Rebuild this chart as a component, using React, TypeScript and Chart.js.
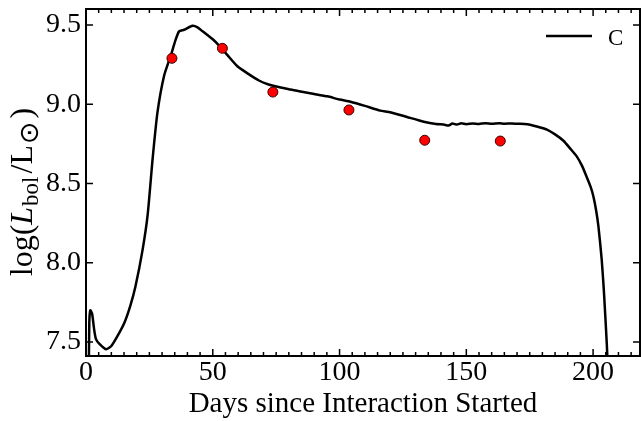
import React, { useEffect, useRef } from "react";
import { Chart, registerables } from "chart.js";

Chart.register(...registerables);

// ---- data ----
const seriesLabel = "C";
const xTitle = "Days since Interaction Started";

const lineDays = [
  1.1, 1.3, 1.7, 2.4, 3.2, 3.9, 5.2, 7.9, 10.0, 12.5, 15.1, 17.5, 19.5, 22.3,
  24.3, 26.3, 28.2, 30.8, 33.5, 35.2, 36.7, 38.7, 42.0, 44.0, 46.0, 48.0, 50.0,
  52.5, 55.8, 59.7, 63.7, 68.2, 72.0, 75.5, 80.0, 84.6, 90.0, 95.2, 100.0,
  104.3, 110.0, 116.0, 120.0, 126.6, 133.2, 138.0, 141.0, 143.0, 144.5, 146.3,
  148.0, 150.0, 152.5, 155.0, 157.5, 160.0, 163.0, 165.0, 168.0, 170.0, 174.0,
  177.8, 181.8, 185.0, 188.3, 191.0, 193.6, 195.7, 197.5, 199.0, 200.1, 201.2,
  202.1, 203.4, 204.3, 205.4, 205.9,
];
const lineLogL = [
  7.3, 7.62, 7.7, 7.68, 7.58, 7.52, 7.49, 7.455, 7.475, 7.54, 7.62, 7.73, 7.85,
  8.08, 8.3, 8.66, 8.95, 9.18, 9.31, 9.4, 9.46, 9.47, 9.495, 9.485, 9.46, 9.435,
  9.41, 9.37, 9.31, 9.24, 9.195, 9.15, 9.125, 9.11, 9.095, 9.08, 9.065, 9.05,
  9.03, 9.016, 8.99, 8.96, 8.95, 8.92, 8.89, 8.875, 8.872, 8.866, 8.878, 8.872,
  8.88, 8.874, 8.879, 8.876, 8.881, 8.877, 8.88, 8.877, 8.879, 8.877, 8.874,
  8.86, 8.84, 8.81, 8.77, 8.72, 8.67, 8.61, 8.54, 8.48, 8.42, 8.33, 8.23, 8.02,
  7.81, 7.49, 7.3,
];

const obsDays = [33.9, 53.8, 73.7, 103.7, 133.6, 163.4];
const obsLogL = [9.29, 9.353, 9.077, 8.964, 8.773, 8.768];

const xTickValues = [0, 50, 100, 150, 200];
const yTickValues = [7.5, 8.0, 8.5, 9.0, 9.5];

const X_MIN = 0;
const X_MAX = 218.5;
const Y_MIN = 7.412;
const Y_MAX = 9.601;
const MINOR_STEP = 5;

const SERIF = "'Liberation Serif', 'Times New Roman', serif";

const framePlugin = {
  id: "frame",
  afterDatasetsDraw(chart: any) {
    const { ctx, chartArea: a, scales } = chart;
    const x = scales.x;
    const y = scales.y;
    ctx.save();
    ctx.strokeStyle = "#000";
    ctx.fillStyle = "#000";

    // ticks (inward, all four sides)
    ctx.lineWidth = 1.5;
    ctx.beginPath();
    const nMinor = Math.floor((X_MAX - X_MIN) / MINOR_STEP + 1e-9);
    for (let i = 0; i <= nMinor; i++) {
      const v = X_MIN + i * MINOR_STEP;
      const px = x.getPixelForValue(v);
      const major = xTickValues.indexOf(v) >= 0;
      const len = major ? 7 : 4;
      ctx.moveTo(px, a.bottom);
      ctx.lineTo(px, a.bottom - len);
      ctx.moveTo(px, a.top);
      ctx.lineTo(px, a.top + len);
    }
    for (const v of yTickValues) {
      const py = y.getPixelForValue(v);
      ctx.moveTo(a.left, py);
      ctx.lineTo(a.left + 7, py);
      ctx.moveTo(a.right, py);
      ctx.lineTo(a.right - 7, py);
    }
    ctx.stroke();

    // frame
    ctx.lineWidth = 2;
    ctx.strokeRect(a.left, a.top, a.right - a.left, a.bottom - a.top);

    // legend
    ctx.lineWidth = 2.5;
    ctx.beginPath();
    ctx.moveTo(a.right - 94, a.top + 27);
    ctx.lineTo(a.right - 48, a.top + 27);
    ctx.stroke();
    ctx.font = `23px ${SERIF}`;
    ctx.textAlign = "left";
    ctx.textBaseline = "alphabetic";
    ctx.fillText(seriesLabel, a.right - 32, a.top + 36);

    // x title
    ctx.font = `29px ${SERIF}`;
    ctx.textAlign = "center";
    ctx.fillText(xTitle, (a.left + a.right) / 2, 412);

    // y title: log(L_bol/L_sun)
    const big = 32;
    const small = 23;
    const segs = [
      { t: "log(", font: `${big}px ${SERIF}`, dy: 0, gap: 0 },
      { t: "L", font: `italic ${big}px ${SERIF}`, dy: 0, gap: 1 },
      { t: "bol", font: `${small}px ${SERIF}`, dy: 6, gap: 3 },
      { t: "/", font: `${big}px ${SERIF}`, dy: 0, gap: 0 },
      { t: "L", font: `${big}px ${SERIF}`, dy: 0, gap: 1 },
      { t: "\u2299", font: `${small + 4}px 'DejaVu Sans', sans-serif`, dy: 6, gap: 3 },
      { t: ")", font: `${big}px ${SERIF}`, dy: 0, gap: 0 },
    ];
    let total = 0;
    const widths: number[] = [];
    for (const s of segs) {
      ctx.font = s.font;
      const w = ctx.measureText(s.t).width + s.gap;
      widths.push(w);
      total += w;
    }
    ctx.translate(32, 192);
    ctx.rotate(-Math.PI / 2);
    ctx.textAlign = "left";
    let u = -total / 2;
    segs.forEach((s, i) => {
      ctx.font = s.font;
      ctx.fillText(s.t, u, s.dy);
      u += widths[i];
    });
    ctx.restore();
  },
};

export default function App() {
  const canvasRef = useRef<HTMLCanvasElement | null>(null);

  useEffect(() => {
    const canvas = canvasRef.current;
    if (!canvas) return;
    const chart = new Chart(canvas, {
      type: "line",
      data: {
        datasets: [
          {
            label: seriesLabel,
            data: lineDays.map((d, i) => ({ x: d, y: lineLogL[i] })),
            borderColor: "#000",
            borderWidth: 2.5,
            pointRadius: 0,
            fill: false,
            tension: 0.2,
            order: 2,
          },
          {
            label: "obs",
            data: obsDays.map((d, i) => ({ x: d, y: obsLogL[i] })),
            showLine: false,
            pointRadius: 5,
            pointBackgroundColor: "#ff0000",
            pointBorderColor: "#3a0000",
            pointBorderWidth: 1,
            order: 1,
          },
        ],
      },
      options: {
        animation: false,
        responsive: true,
        maintainAspectRatio: false,
        layout: { autoPadding: false, padding: { top: 9, right: 1, left: 0, bottom: 0 } },
        plugins: {
          legend: { display: false },
          tooltip: { enabled: false },
        },
        scales: {
          x: {
            type: "linear",
            min: X_MIN,
            max: X_MAX,
            afterBuildTicks: (s: any) => {
              s.ticks = xTickValues.map((v) => ({ value: v }));
            },
            afterFit: (s: any) => {
              s.height = 65;
              s.paddingLeft = 0;
              s.paddingRight = 0;
              s.paddingTop = 0;
              s.paddingBottom = 0;
            },
            ticks: {
              color: "#000",
              font: { family: SERIF, size: 28 },
              padding: 0,
              maxRotation: 0,
              autoSkip: false,
              callback: (v: any) => String(v),
            },
            grid: { display: false, drawTicks: false },
            border: { display: false },
          },
          y: {
            type: "linear",
            min: Y_MIN,
            max: Y_MAX,
            afterBuildTicks: (s: any) => {
              s.ticks = yTickValues.map((v) => ({ value: v }));
            },
            afterFit: (s: any) => {
              s.width = 86;
              s.paddingLeft = 0;
              s.paddingRight = 0;
              s.paddingTop = 0;
              s.paddingBottom = 0;
            },
            ticks: {
              color: "#000",
              font: { family: SERIF, size: 28 },
              padding: 5,
              autoSkip: false,
              callback: (v: any) => Number(v).toFixed(1),
            },
            grid: { display: false, drawTicks: false },
            border: { display: false },
          },
        },
      },
      plugins: [framePlugin],
    });
    return () => chart.destroy();
  }, []);

  return (
    <div style={{ position: "absolute", left: 0, top: 0, width: 641, height: 421, background: "#fff" }}>
      <canvas ref={canvasRef} />
    </div>
  );
}
